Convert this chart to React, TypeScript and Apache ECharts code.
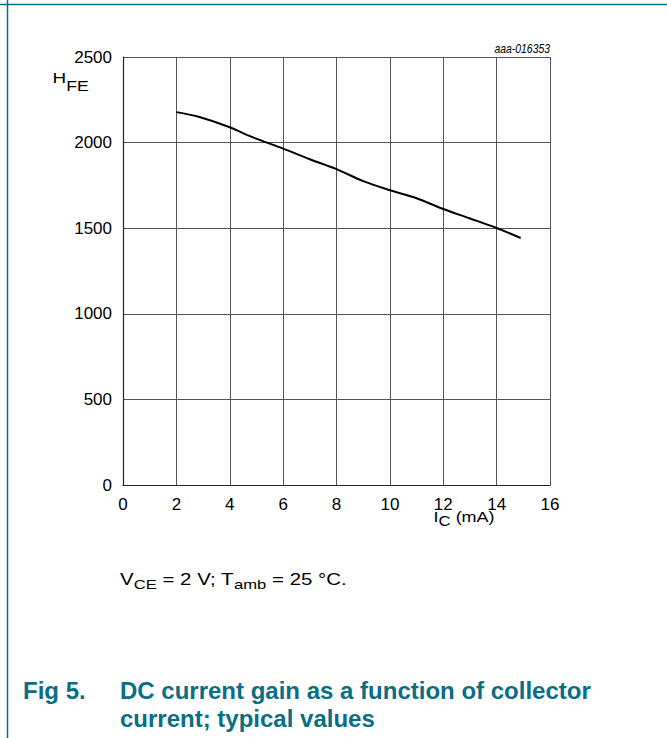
import React, { useEffect, useRef } from "react";
import * as echarts from "echarts";

// ---- data ----
const currentMA = [2, 2.8, 4, 4.8, 6, 7, 8, 9, 10, 11, 12, 13, 14, 14.9];
const hfe = [2178, 2152, 2090, 2035, 1965, 1903, 1845, 1775, 1722, 1675, 1612, 1557, 1501, 1443];
const xTicks = { min: 0, max: 16, interval: 2 };
const yTicks = { min: 0, max: 2500, interval: 500 };
const figCode = "aaa-016353";
const captionLines = ["DC current gain as a function of collector", "current; typical values"];
const figLabel = "Fig 5.";

const FAMILY = '"Liberation Sans", Arial, sans-serif';
const TEAL = "#0a6e84";

let measureCtx: CanvasRenderingContext2D | null = null;
function measure(text: string, size: number, weight = "normal", style = "normal") {
  if (!measureCtx) measureCtx = document.createElement("canvas").getContext("2d");
  measureCtx!.font = `${style} ${weight} ${size}px ${FAMILY}`;
  return measureCtx!.measureText(text).width;
}

type Part = { t: string; size: number; cy: number };
function seq(x0: number, parts: Part[], scale: number, fill = "#000") {
  let x = x0;
  const els: any[] = [];
  for (const p of parts) {
    els.push({
      type: "text",
      x,
      y: p.cy,
      scaleX: scale,
      silent: true,
      style: {
        text: p.t,
        fontSize: p.size,
        fontFamily: FAMILY,
        fill,
        align: "left",
        verticalAlign: "middle",
      },
    });
    x += measure(p.t, p.size) * scale;
  }
  return els;
}

export default function App() {
  const ref = useRef<HTMLDivElement>(null);
  useEffect(() => {
    if (!ref.current) return;
    const chart = echarts.init(ref.current, undefined, { renderer: "svg" });
    const graphics: any[] = [
      { type: "line", silent: true, shape: { x1: 0, y1: 4.5, x2: 667, y2: 4.5 }, style: { stroke: TEAL, lineWidth: 1.5 } },
      { type: "line", silent: true, shape: { x1: 7.5, y1: 0, x2: 7.5, y2: 738 }, style: { stroke: TEAL, lineWidth: 1.5 } },
      {
        type: "text",
        x: 550,
        y: 48,
        scaleX: 0.8,
        silent: true,
        style: { text: figCode, fontSize: 13, fontStyle: "italic", fontFamily: FAMILY, fill: "#000", align: "right", verticalAlign: "middle" },
      },
      ...seq(52.5, [
        { t: "H", size: 15.5, cy: 77.4 },
        { t: "FE", size: 14.5, cy: 85.5 },
      ], 1.22),
      ...seq(433.5, [
        { t: "I", size: 15, cy: 516.7 },
        { t: "C", size: 14, cy: 521.5 },
        { t: " (mA)", size: 15, cy: 516.7 },
      ], 1.2),
      ...seq(120, [
        { t: "V", size: 16, cy: 579 },
        { t: "CE", size: 13, cy: 584.5 },
        { t: " = 2 V; T", size: 16, cy: 579 },
        { t: "amb", size: 13, cy: 584.5 },
        { t: " = 25 °C.", size: 16, cy: 579 },
      ], 1.28),
      {
        type: "text", x: 23, y: 690, silent: true,
        style: { text: figLabel, fontSize: 24, fontWeight: "bold", fontFamily: FAMILY, fill: TEAL, align: "left", verticalAlign: "middle" },
      },
      ...captionLines.map((t, i) => ({
        type: "text", x: 120, y: 690 + i * 28.5, silent: true,
        style: { text: t, fontSize: 24, fontWeight: "bold", fontFamily: FAMILY, fill: TEAL, align: "left", verticalAlign: "middle" },
      })),
    ];

    chart.setOption({
      animation: false,
      backgroundColor: "#fff",
      grid: { left: 123, top: 57, width: 427, height: 428, containLabel: false },
      xAxis: {
        type: "value",
        min: xTicks.min,
        max: xTicks.max,
        interval: xTicks.interval,
        axisLine: { show: true, lineStyle: { color: "#222", width: 1.2 } },
        axisTick: { show: false },
        axisLabel: { color: "#000", fontSize: 17, fontFamily: FAMILY, margin: 11, formatter: (v: number) => String(v) },
        splitLine: { show: true, lineStyle: { color: "#555", width: 1 } },
      },
      yAxis: {
        type: "value",
        min: yTicks.min,
        max: yTicks.max,
        interval: yTicks.interval,
        axisLine: { show: true, lineStyle: { color: "#222", width: 1.2 } },
        axisTick: { show: false },
        axisLabel: { color: "#000", fontSize: 17, fontFamily: FAMILY, margin: 11, formatter: (v: number) => String(v) },
        splitLine: { show: true, lineStyle: { color: "#555", width: 1 } },
      },
      series: [
        {
          type: "line",
          data: currentMA.map((x, i) => [x, hfe[i]]),
          smooth: 0.3,
          showSymbol: false,
          symbol: "none",
          lineStyle: { color: "#000", width: 2 },
          silent: true,
        },
      ],
      graphic: graphics,
    });
    return () => chart.dispose();
  }, []);
  return (
    <div
      ref={ref}
      style={{ position: "absolute", left: 0, top: 0, width: 667, height: 738, background: "#fff" }}
    />
  );
}
